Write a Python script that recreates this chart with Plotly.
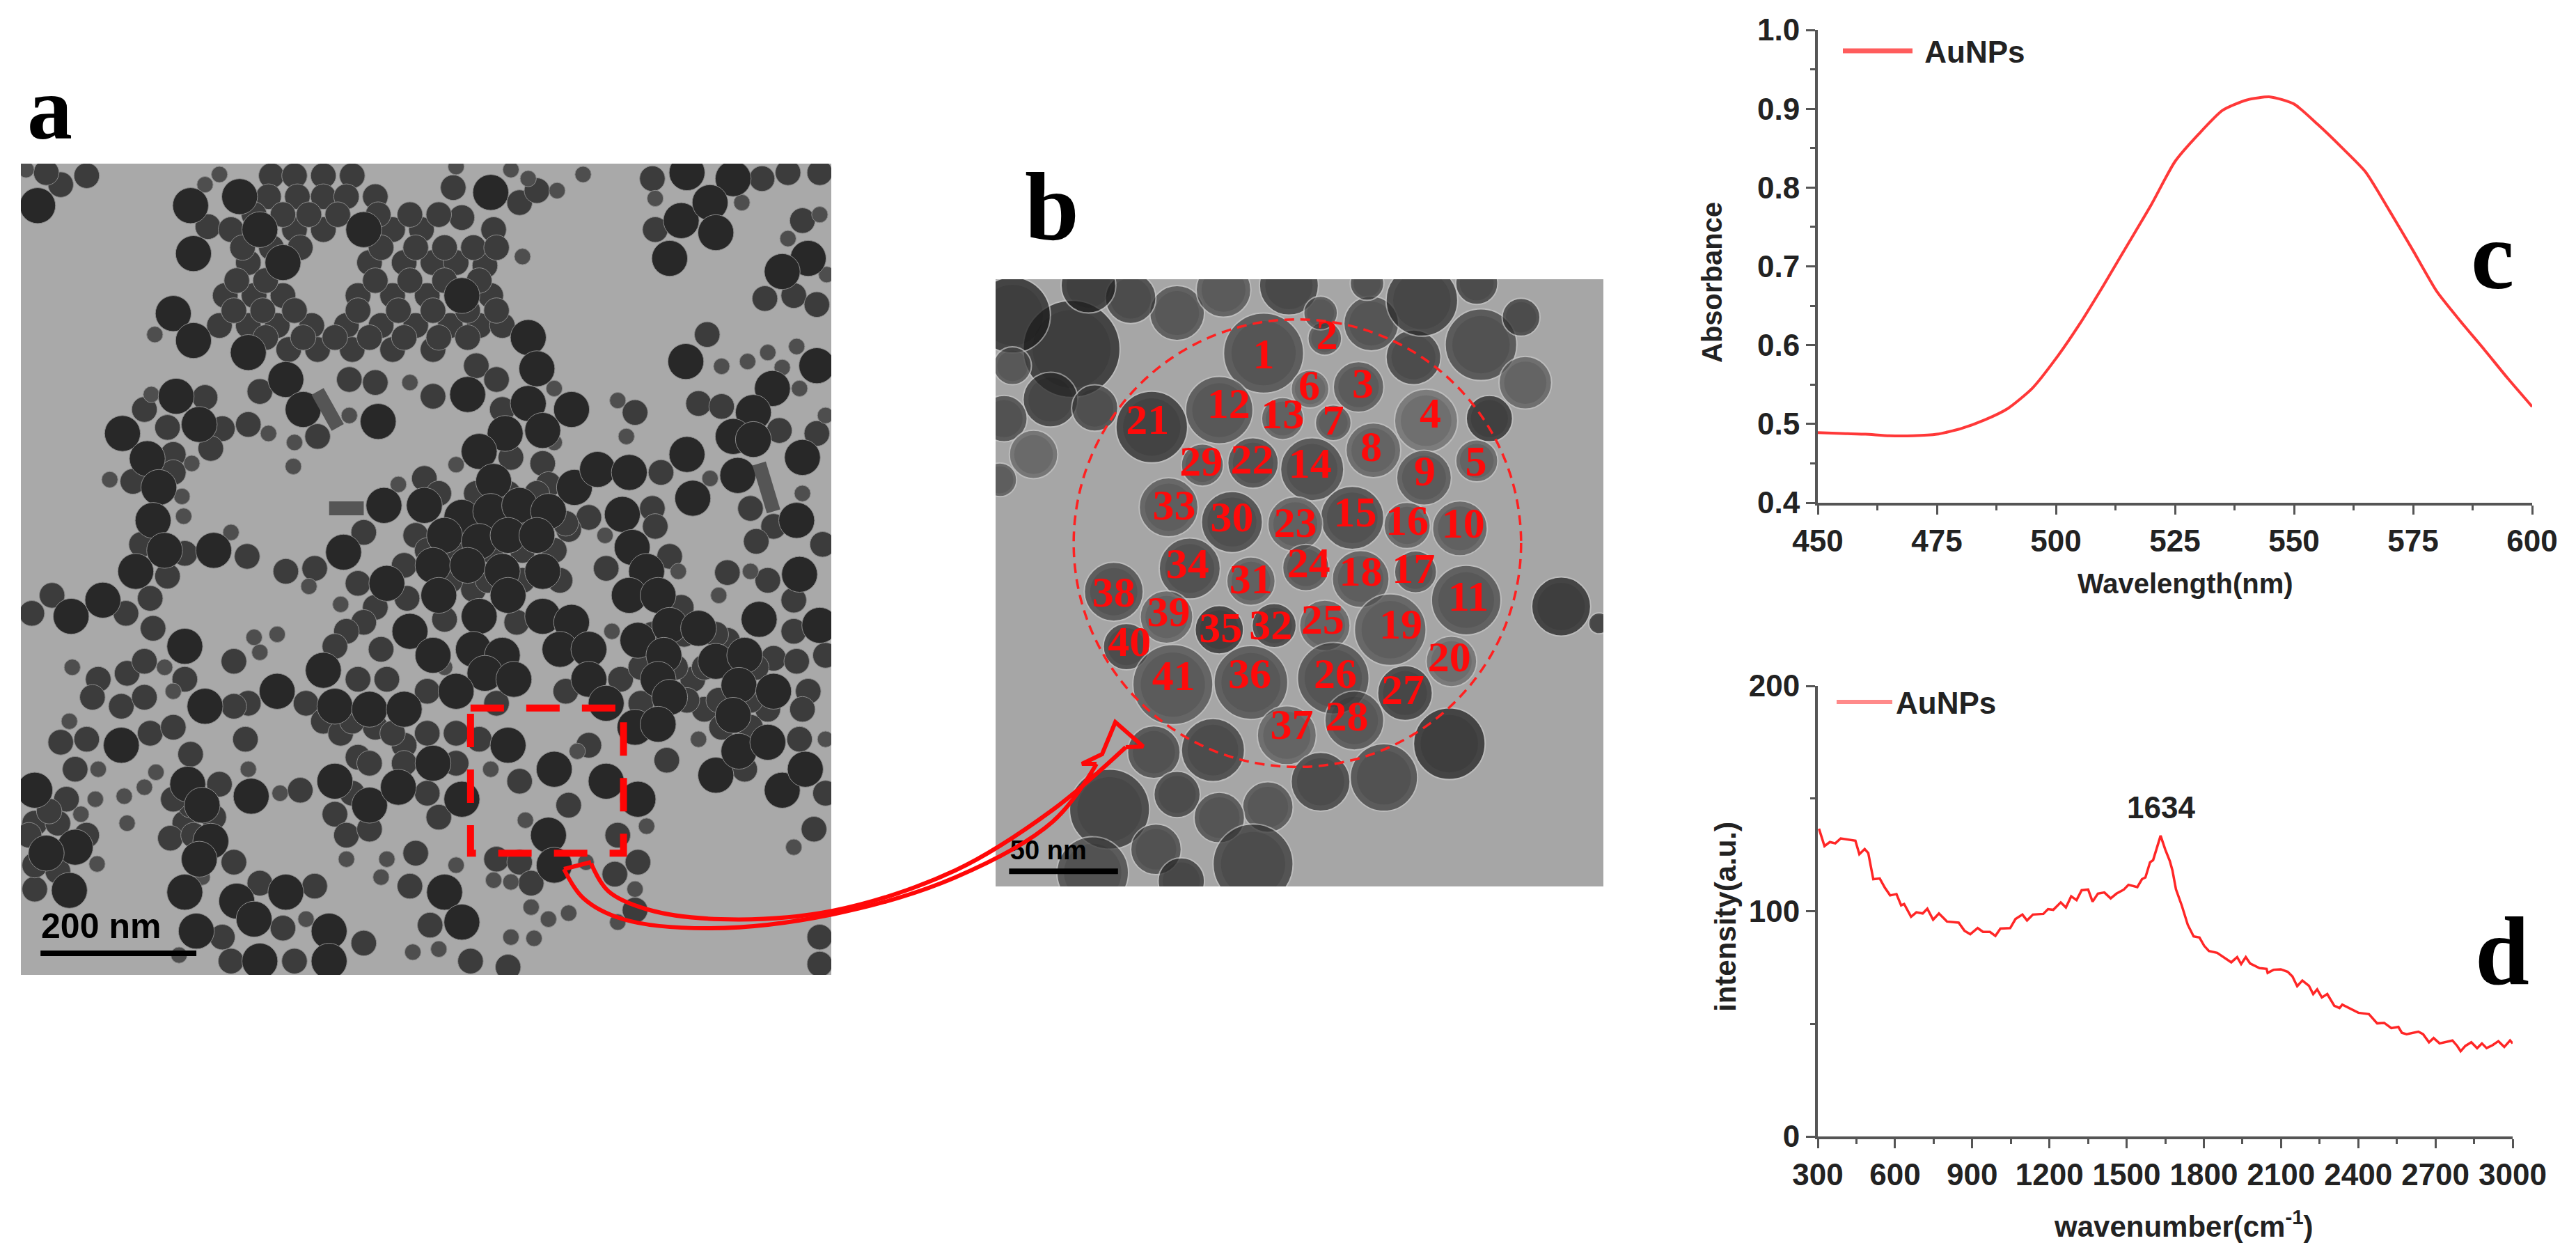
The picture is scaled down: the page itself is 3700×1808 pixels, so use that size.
import plotly.graph_objects as go

W, H = 3700, 1808

## SPECTRA
wavelength = [450, 455, 460, 465, 470, 475, 480, 485, 490, 495, 500, 505, 510, 515, 520, 525,
              530, 535, 540, 545, 550, 555, 560, 565, 570, 575, 580, 585, 590, 595, 600]
absorbance = [.489, .488, .487, .485, .485, .487, .494, .505, .520, .545, .583, .627, .676, .727, .778, .833,
              .868, .898, .911, .915, .906, .880, .851, .820, .771, .720, .668, .630, .594, .557, .522]

wavenumber = [304.5, 326, 347, 368, 389, 423.5, 446, 461.4, 482, 496, 515.5, 540.7, 560.5, 581, 605.6, 623.7, 635.4,
              662.4, 683, 707.5, 725.6, 748, 770.6, 802, 847.3, 870, 892.4, 921.2, 942, 969, 990, 1009.6, 1047.5, 1068,
              1095, 1113, 1136, 1176.4, 1194.5, 1215, 1244, 1264, 1284.6, 1305.4, 1325.2, 1350.4, 1367.6, 1388.3, 1413.5,
              1438, 1460.5, 1489.3, 1507.3, 1541.6, 1559.6, 1573, 1591, 1603, 1632, 1650, 1668, 1678, 1691.7, 1714.6,
              1737.5, 1760.3, 1783, 1801.5, 1819.7, 1851.8, 1879, 1906.6, 1929.5, 1945, 1963, 1979.8, 2016.4, 2043.8, 2048,
              2071, 2098.7, 2126, 2144.4, 2162.7, 2182.8, 2208.4, 2224.9, 2240.4, 2258.7, 2279.7, 2307, 2327.3, 2338, 2373,
              2400.5, 2441.6, 2473.6, 2501, 2528.5, 2556, 2569.7, 2588, 2633.7, 2652, 2675, 2693, 2716, 2766, 2784.5, 2798,
              2816.5, 2839.4, 2862, 2880.6, 2898.8, 2921.7, 2944.6, 2967.5, 2990, 3000]
intensity = [136.6, 128.9, 130.7, 130.1, 132.3, 131.7, 131.3, 125.3, 127.6, 125.8, 114.2, 114.5, 110.4, 107, 107.6, 102.6, 103.2,
             97.5, 99.5, 99, 101.1, 96.2, 99, 95.4, 94.9, 91.3, 89.8, 92.5, 90.8, 90.8, 89, 92.3, 92.5, 96.5,
             98.5, 95.9, 98.5, 98.8, 100.9, 100.6, 103.9, 101.6, 106.6, 104.9, 109.3, 109.6, 104.2, 107.8, 108.3,
             105.7, 107.8, 109.6, 111.7, 110.7, 114.2, 115, 121.7, 122.7, 133.5, 127.4, 122.2, 118.1, 109.7, 102.4,
             94, 88.8, 88.3, 84.6, 82.3, 81.5, 79.4, 77.3, 79.6, 76.5, 79.6, 76.8, 74.7, 74.4, 72.6,
             74, 74.2, 73.1, 71, 66.7, 69.2, 66.9, 63.2, 65.3, 61.7, 63.2, 58, 57, 58.5, 56.4,
             54.9, 54.3, 50.2, 50.4, 48.1, 48.6, 46, 45.4, 46.5, 45.4, 41.8, 43.7, 41.3, 42.6, 40.2, 37.8,
             40.2, 41.8, 39.2, 41.3, 39.2, 40.5, 42.3, 39.7, 42.6, 41.3]

## PANEL A particles (image units)
a_large = [(65, 250), (330, 250), (335, 330), (415, 235), (450, 290), (630, 290), (490, 345), (800, 400), (300, 430),
           (335, 475), (915, 470), (930, 522), (850, 228), (1190, 195), (1270, 205), (1180, 275), (1230, 245),
           (1240, 295), (1160, 338), (1400, 338), (1355, 360), (430, 495), (495, 540), (525, 590), (655, 610),
           (305, 568), (212, 630), (345, 615), (255, 672), (275, 720), (265, 775), (285, 825), (370, 825), (235, 860),
           (595, 828), (665, 750), (123, 935), (178, 908), (810, 565), (915, 580), (990, 590), (940, 625), (875, 630),
           (830, 660), (855, 710), (995, 720), (1035, 690), (1090, 695), (1190, 665), (1278, 700), (1200, 738),
           (735, 750), (800, 770), (850, 760), (900, 750), (950, 760), (1078, 765), (770, 800), (830, 810), (880, 800),
           (930, 800), (1095, 820), (750, 850), (810, 850), (870, 860), (940, 860), (1120, 860), (670, 880), (760, 900),
           (880, 900), (1090, 900), (1140, 900), (710, 960), (830, 935), (940, 935), (990, 945), (1105, 975), (1160, 950),
           (1210, 955), (1315, 940), (1420, 950), (750, 1000), (820, 990), (870, 1000), (970, 990), (1020, 990),
           (1150, 1000), (1240, 1010), (1290, 1000), (560, 1025), (840, 1030), (890, 1040), (1020, 1040), (1140, 1040),
           (1280, 1050), (1340, 1060), (480, 1060), (580, 1085), (640, 1090), (700, 1090), (790, 1060), (1050, 1080),
           (1160, 1070), (1270, 1100), (320, 985), (355, 1085), (210, 1150), (60, 1225), (325, 1215), (435, 1235),
           (350, 1250), (365, 1310), (130, 1320), (80, 1330), (120, 1392), (345, 1340), (580, 1210), (640, 1250),
           (690, 1220), (750, 1180), (800, 1240), (880, 1150), (960, 1190), (1050, 1210), (1100, 1120), (1140, 1115),
           (1105, 1240), (950, 1300), (1240, 1200), (1280, 1160), (1330, 1145), (1355, 1225), (1395, 1190), (960, 1350),
           (770, 1395), (800, 1445), (320, 1395), (410, 1410), (495, 1395), (340, 1460), (440, 1440), (570, 1460),
           (450, 1510), (570, 1510), (1188, 510), (1415, 517), (1338, 555), (1305, 595), (1270, 635), (1305, 640),
           (1390, 670), (1380, 775), (1385, 865)]
a_medium = [(105, 215), (150, 200), (80, 195), (360, 285), (470, 200), (510, 200), (560, 200), (610, 200), (465, 235),
            (515, 235), (560, 235), (600, 235), (650, 235), (400, 290), (510, 290), (560, 290), (680, 290), (730, 290),
            (430, 345), (640, 345), (700, 345), (750, 345), (790, 345), (840, 350), (390, 400), (440, 400), (490, 400),
            (620, 400), (680, 400), (740, 400), (850, 400), (380, 450), (430, 450), (480, 450), (540, 450), (600, 450),
            (660, 450), (720, 450), (780, 450), (830, 450), (870, 450), (500, 490), (550, 490), (610, 490), (680, 490),
            (750, 490), (825, 517), (785, 220), (900, 245), (930, 225), (855, 290), (800, 270), (1130, 205), (1320, 205),
            (1365, 195), (1420, 195), (1135, 290), (1390, 275), (1325, 405), (1375, 400), (1415, 415), (450, 560),
            (550, 635), (605, 540), (650, 545), (355, 570), (250, 590), (290, 620), (385, 622), (430, 615), (365, 655),
            (300, 665), (300, 695), (230, 710), (245, 815), (320, 830), (428, 835), (290, 868), (495, 860), (545, 855),
            (630, 795), (90, 900), (55, 930), (218, 930), (260, 905), (265, 955), (750, 568), (860, 540), (870, 590),
            (885, 670), (940, 680), (950, 715), (1145, 695), (735, 705), (1020, 770), (1130, 755), (720, 800), (985, 790),
            (1135, 785), (1160, 835), (700, 850), (1050, 855), (620, 880), (705, 905), (820, 890), (1180, 920), (650, 920),
            (630, 945), (770, 940), (895, 945), (1260, 975), (1375, 960), (600, 960), (580, 985), (660, 990), (1340, 1005),
            (1380, 1010), (1430, 1000), (405, 1010), (620, 1040), (670, 1040), (1075, 1040), (1200, 1040), (1400, 1060),
            (430, 1080), (530, 1080), (740, 1060), (860, 1080), (980, 1060), (1110, 1080), (1220, 1090), (1330, 1090),
            (1390, 1090), (170, 1040), (220, 1030), (250, 1010), (320, 1040), (160, 1070), (210, 1085), (250, 1070),
            (405, 1085), (105, 1145), (150, 1140), (260, 1130), (300, 1120), (425, 1140), (330, 1165), (130, 1190),
            (115, 1240), (380, 1215), (520, 1225), (60, 1280), (100, 1280), (320, 1280), (295, 1305), (50, 1300), (60, 1390),
            (405, 1345), (620, 1170), (560, 1110), (700, 1150), (650, 1120), (580, 1265), (600, 1300), (640, 1290),
            (720, 1330), (760, 1270), (830, 1140), (900, 1210), (985, 1250), (1020, 1150), (1155, 1175), (1070, 1300),
            (1385, 1140), (1430, 1230), (1290, 1190), (1410, 1290), (860, 1340), (900, 1345), (1065, 1365), (1105, 1345),
            (920, 1380), (1100, 1425), (710, 1385), (745, 1450), (815, 1510), (880, 1520), (450, 1380), (545, 1385),
            (385, 1470), (490, 1455), (630, 1480), (510, 1510), (400, 1510), (1420, 1470), (1420, 1515), (1225, 465),
            (1210, 580), (1250, 585), (1100, 595), (1350, 625), (1415, 630), (1300, 755), (1340, 785), (1425, 815),
            (1310, 810), (1260, 862), (1330, 875), (1375, 908),
            # between the rows of the dense clusters
            (440, 265), (490, 265), (535, 265), (585, 265), (655, 265), (710, 265), (760, 265), (420, 320), (470, 320),
            (520, 320), (660, 320), (720, 320), (770, 320), (820, 320), (860, 320), (410, 375), (460, 375), (650, 375),
            (710, 375), (770, 375), (830, 375), (405, 425), (455, 425), (510, 425), (620, 425), (690, 425), (750, 425),
            (810, 425), (860, 425), (460, 470), (525, 470), (580, 470), (640, 470), (700, 470), (760, 470), (810, 470),
            (740, 825), (790, 825), (850, 825), (905, 825), (960, 825), (825, 780), (875, 780), (925, 780), (980, 780),
            (780, 875), (845, 875), (905, 875), (970, 875), (760, 730), (825, 730), (880, 730), (930, 730),
            (1130, 965), (1185, 965), (1240, 965), (1110, 1020), (1170, 1020), (1220, 1020), (1265, 1020), (1310, 1020),
            (1190, 1075), (1245, 1075), (1300, 1075), (1250, 1120), (1300, 1120), (590, 1130), (680, 1130), (740, 1130),
            (790, 1130), (640, 1180), (700, 1180), (790, 1180), (610, 1230), (740, 1230), (610, 1110),
            (85, 1260), (100, 1360), (60, 1350), (150, 1300), (330, 1250), (300, 1240), (370, 1270), (335, 1300)]
a_small = [(45, 190), (355, 215), (380, 198), (268, 465), (905, 335), (965, 225), (1010, 198), (915, 205), (885, 190),
           (790, 185), (1135, 238), (1285, 245), (1420, 265), (1365, 305), (1432, 365), (262, 565), (605, 600), (465, 630),
           (510, 645), (508, 685), (190, 707), (332, 680), (315, 735), (318, 768), (400, 795), (535, 885), (710, 545),
           (960, 555), (960, 645), (790, 682), (1230, 705), (690, 715), (1048, 800), (1175, 860), (590, 915), (1060, 960),
           (450, 995), (480, 965), (440, 970), (770, 1020), (285, 1020), (125, 1020), (300, 1060), (120, 1110), (170, 1190),
           (165, 1240), (215, 1235), (250, 1220), (270, 1195), (140, 1265), (220, 1280), (430, 1190), (485, 1230),
           (168, 1348), (670, 1340), (600, 1340), (850, 1190), (1120, 1285), (910, 1275), (1000, 1160), (1210, 1140),
           (1375, 1320), (1430, 1140), (1015, 1345), (1100, 1390), (855, 1375), (885, 1378), (920, 1420), (950, 1440),
           (985, 1430), (1070, 1445), (790, 1350), (885, 1470), (925, 1472), (715, 1495), (760, 1490), (660, 1370),
           (350, 1370), (530, 1440), (310, 1500), (1250, 518), (1295, 510), (1330, 495), (1380, 485), (1355, 520),
           (1385, 555), (1070, 575), (1085, 635), (1430, 600), (1390, 730), (1300, 860), (1245, 900)]
a_rods = [[(550, 560), (585, 620)], [(570, 755), (630, 755)], [(1315, 680), (1340, 760)]]

## PANEL B particles: x, y, diameter, grey level
b_x = [685, 830, 910, 1070, 1190, 795, 850, 945, 1065, 1150, 1165, 580, 730, 800, 895, 1025, 1045, 915, 985, 1130, 420,
       660, 760, 785, 830, 850, 1020, 900, 540, 610, 655, 710, 460, 510, 580, 655, 740, 330, 455, 360, 470,
       1040, 940, 1060, 1200, 1295, 1305, 1220, 1390, 1480, 1125, 970, 820, 565, 425, 480, 695, 580, 320, 430, 660, 280,
       490, 230, 90, 180, 285, 70, 140, 60, 480, 590, 745, 820, 370, 270, 90, 930, 1190]
b_y = [260, 225, 340, 420, 515, 345, 425, 490, 555, 675, 845, 395, 415, 535, 650, 668, 778, 795, 915, 990, 435,
       520, 665, 768, 905, 1030, 1065, 1130, 525, 660, 800, 905, 625, 770, 915, 1040, 1165, 825, 885, 955, 1045,
       270, 190, 135, 240, 175, 330, 415, 860, 900, 1185, 1265, 1275, 1200, 1205, 1305, 1335, 1360, 1340, 1435, 1470, 1490,
       1510, 250, 170, 370, 390, 415, 500, 560, 165, 110, 100, 165, 130, 100, 290, 95, 95]
b_d = [190, 80, 120, 150, 100, 90, 85, 130, 130, 130, 165, 160, 100, 150, 150, 110, 100, 135, 170, 120, 170,
       120, 130, 110, 120, 170, 130, 140, 100, 145, 115, 105, 140, 145, 115, 175, 140, 140, 125, 110, 190,
       130, 130, 170, 170, 90, 125, 110, 140, 50, 170, 160, 140, 150, 125, 110, 120, 120, 190, 120, 190, 170,
       110, 230, 180, 130, 110, 110, 115, 80, 130, 130, 140, 80, 120, 130, 90, 80, 100]
b_g = [75, 85, 85, 120, 100, 110, 90, 100, 85, 95, 80, 80, 95, 70, 70, 95, 80, 90, 90, 115, 45,
       70, 95, 85, 100, 75, 50, 80, 85, 65, 95, 55, 90, 70, 40, 80, 100, 75, 100, 60, 85,
       60, 75, 50, 70, 60, 100, 40, 35, 50, 35, 70, 60, 60, 70, 60, 80, 75, 50, 70, 60, 70,
       50, 35, 35, 50, 65, 70, 110, 90, 80, 85, 55, 80, 60, 40, 80, 70, 60]
b_numbers = list(range(1, 42))
b_num_x = [685, 835, 920, 1080, 1188, 793, 850, 940, 1067, 1158, 1170, 602, 730, 795, 902, 1025, 1040, 915, 1010, 1125, 410,
           658, 760, 792, 825, 855, 1015, 882, 537, 610, 655, 702, 473, 505, 583, 652, 752, 330, 460, 367, 472]
b_num_y = [270, 225, 340, 410, 525, 345, 428, 490, 548, 672, 845, 387, 412, 530, 645, 665, 778, 785, 910, 988, 425,
           520, 670, 765, 898, 1028, 1065, 1128, 525, 657, 803, 912, 628, 767, 918, 1028, 1148, 835, 880, 952, 1032]

## zoom arrow between the panels (figure pixels)
arrow_outer_x = [810, 838, 895, 1021, 1196, 1372, 1512, 1575]
arrow_outer_y = [1248, 1290, 1320, 1333, 1313, 1260, 1180, 1097]
arrow_inner_x = [849, 874, 930, 1035, 1196, 1372, 1512, 1617]
arrow_inner_y = [1240, 1280, 1306, 1320, 1308, 1250, 1163, 1073]
tail_x = [810, 849]
tail_y = [1248, 1238]
head_x = [1575, 1554, 1583, 1602, 1642, 1617]
head_y = [1097, 1097, 1083, 1037, 1072, 1073]

a_box = (36, 1440, 180, 1533)
b_box = (50, 1490, 85, 1523)
a_px = (30, 1194, 235, 1400)
b_px = (1430, 2303, 401, 1273)
c_px = (2611, 3637, 43, 722)
d_px = (2611, 3609, 985, 1632)


def dom_x(p):
    return [p[0] / W, p[1] / W]


def dom_y(p):
    return [1 - p[3] / H, 1 - p[2] / H]


def label(text, px, py, size, family='Liberation Sans', angle=0, color='#222222'):
    fig.add_annotation(text=text, x=px / W, y=1 - py / H, xref='paper', yref='paper', showarrow=False,
                       xanchor='center', yanchor='middle', textangle=angle,
                       font=dict(family=family, size=size, color=color, weight='bold'))


fig = go.Figure()

## panel a
a_scale = (a_px[1] - a_px[0]) / (a_box[1] - a_box[0])
for pts, d, grey in [(a_medium, 44, '#3c3c3c'), (a_small, 28, '#4e4e4e'), (a_large, 62, '#282828')]:
    fig.add_trace(go.Scatter(x=[p[0] for p in pts], y=[p[1] for p in pts], mode='markers', showlegend=False,
                             marker=dict(size=d * a_scale, color=grey, line=dict(color='#8c8c8c', width=1)),
                             xaxis='x', yaxis='y', hoverinfo='skip'))
for rod in a_rods:
    fig.add_trace(go.Scatter(x=[p[0] for p in rod], y=[p[1] for p in rod], mode='lines', showlegend=False,
                             line=dict(color='#555555', width=20), xaxis='x', yaxis='y', hoverinfo='skip'))
fig.add_trace(go.Scatter(x=[70, 340], y=[1497, 1497], mode='lines', showlegend=False,
                         line=dict(color='black', width=8), xaxis='x', yaxis='y', hoverinfo='skip'))
fig.add_trace(go.Scatter(x=[175], y=[1457], mode='text', text=['200 nm'], showlegend=False,
                         textfont=dict(family='Liberation Sans', size=50, color='black', weight='bold'),
                         xaxis='x', yaxis='y', hoverinfo='skip'))

## panel b
b_scale = (b_px[1] - b_px[0]) / (b_box[1] - b_box[0])
fig.add_trace(go.Scatter(x=b_x, y=b_y, mode='markers', showlegend=False,
                         marker=dict(size=[d * b_scale for d in b_d], color=b_g,
                                     colorscale=[[0, '#161616'], [1, '#707070']], cmin=30, cmax=125,
                                     line=dict(color='#c6c6c6', width=2)),
                         xaxis='x2', yaxis='y2', hoverinfo='skip'))
# darker core of each particle
fig.add_trace(go.Scatter(x=b_x, y=b_y, mode='markers', showlegend=False,
                         marker=dict(size=[d * b_scale * 0.8 for d in b_d], color='rgba(20,20,20,0.16)', line_width=0),
                         xaxis='x2', yaxis='y2', hoverinfo='skip'))
fig.add_trace(go.Scatter(x=b_num_x, y=b_num_y, mode='text', text=[str(n) for n in b_numbers], showlegend=False,
                         textfont=dict(family='Liberation Serif', size=62, color='#ff0a0a', weight='bold'),
                         xaxis='x2', yaxis='y2', hoverinfo='skip'))
fig.add_trace(go.Scatter(x=[82, 340], y=[1487, 1487], mode='lines', showlegend=False,
                         line=dict(color='black', width=8), xaxis='x2', yaxis='y2', hoverinfo='skip'))
fig.add_trace(go.Scatter(x=[175], y=[1443], mode='text', text=['50 nm'], showlegend=False,
                         textfont=dict(family='Liberation Sans', size=38, color='black', weight='bold'),
                         xaxis='x2', yaxis='y2', hoverinfo='skip'))

## panel c
fig.add_trace(go.Scatter(x=wavelength, y=absorbance, mode='lines', showlegend=False,
                         line=dict(color='#ff3838', width=4, shape='spline', smoothing=0.6), xaxis='x3', yaxis='y3'))
fig.add_trace(go.Scatter(x=[None], y=[None], mode='lines', name='\u00a0AuNPs', legend='legend',
                         line=dict(color='#ff5c5c', width=7), xaxis='x3', yaxis='y3'))
## panel d
fig.add_trace(go.Scatter(x=wavenumber, y=intensity, mode='lines', showlegend=False,
                         line=dict(color='#ff2626', width=3.5), xaxis='x4', yaxis='y4'))
fig.add_trace(go.Scatter(x=[None], y=[None], mode='lines', name='AuNPs', legend='legend2',
                         line=dict(color='#ff8a8a', width=6), xaxis='x4', yaxis='y4'))

## arrow on a figure-wide overlay
for ax, ay in [(arrow_outer_x, arrow_outer_y), (arrow_inner_x, arrow_inner_y)]:
    fig.add_trace(go.Scatter(x=ax, y=ay, mode='lines', showlegend=False,
                             line=dict(color='#ff0808', width=6, shape='spline'),
                             xaxis='x5', yaxis='y5', hoverinfo='skip'))
for ax, ay in [(tail_x, tail_y), (head_x, head_y)]:
    fig.add_trace(go.Scatter(x=ax, y=ay, mode='lines', showlegend=False,
                             line=dict(color='#ff0808', width=6),
                             xaxis='x5', yaxis='y5', hoverinfo='skip'))

hidden = dict(visible=False, showgrid=False, zeroline=False)
axis_style = dict(showline=True, linecolor='#555555', linewidth=4, ticks='outside', ticklen=13, tickwidth=3,
                  tickcolor='#555555', showgrid=False, zeroline=False, automargin=False,
                  tickfont=dict(family='Liberation Sans', size=44, color='#222222', weight='bold'))

fig.update_layout(
    width=W, height=H, margin=dict(l=0, r=0, t=0, b=0), paper_bgcolor='white', plot_bgcolor='rgba(0,0,0,0)',
    xaxis=dict(domain=dom_x(a_px), range=[a_box[0], a_box[1]], anchor='y', **hidden),
    yaxis=dict(domain=dom_y(a_px), range=[a_box[3], a_box[2]], anchor='x', **hidden),
    xaxis2=dict(domain=dom_x(b_px), range=[b_box[0], b_box[1]], anchor='y2', **hidden),
    yaxis2=dict(domain=dom_y(b_px), range=[b_box[3], b_box[2]], anchor='x2', **hidden),
    xaxis3=dict(domain=dom_x(c_px), range=[450, 600], anchor='y3', dtick=25, tick0=450,
                minor=dict(dtick=12.5, tick0=450, ticks='outside', ticklen=7, tickwidth=3, tickcolor='#555555'),
                **axis_style),
    yaxis3=dict(domain=dom_y(c_px), range=[0.4, 1.0], anchor='x3', dtick=0.1, tick0=0.4, tickformat='.1f',
                minor=dict(dtick=0.05, tick0=0.4, ticks='outside', ticklen=7, tickwidth=3, tickcolor='#555555'),
                **axis_style),
    xaxis4=dict(domain=dom_x(d_px), range=[300, 3000], anchor='y4', dtick=300, tick0=300,
                minor=dict(dtick=150, tick0=300, ticks='outside', ticklen=7, tickwidth=3, tickcolor='#555555'),
                **axis_style),
    yaxis4=dict(domain=dom_y(d_px), range=[0, 200], anchor='x4', dtick=100,
                minor=dict(dtick=50, tick0=0, ticks='outside', ticklen=7, tickwidth=3, tickcolor='#555555'),
                **axis_style),
    xaxis5=dict(domain=[0, 1], range=[0, W], anchor='y5', **hidden),
    yaxis5=dict(domain=[0, 1], range=[H, 0], anchor='x5', **hidden),
    legend=dict(x=2642 / W, y=1 - 38 / H, xanchor='left', yanchor='top', bgcolor='rgba(0,0,0,0)', itemwidth=100,
                font=dict(family='Liberation Sans', size=44, color='#222222', weight='bold')),
    legend2=dict(x=2633 / W, y=1 - 973 / H, xanchor='left', yanchor='top', bgcolor='rgba(0,0,0,0)', itemwidth=80,
                 font=dict(family='Liberation Sans', size=44, color='#222222', weight='bold')),
    hovermode=False,
)

# micrograph backgrounds and the dashed selections
fig.add_shape(type='rect', xref='x', yref='y', x0=a_box[0], x1=a_box[1], y0=a_box[2], y1=a_box[3], layer='below',
              fillcolor='#a9a9a9', line_width=0)
fig.add_shape(type='rect', xref='x2', yref='y2', x0=b_box[0], x1=b_box[1], y0=b_box[2], y1=b_box[3], layer='below',
              fillcolor='#a6a6a6', line_width=0)
fig.add_shape(type='rect', xref='x', yref='y', x0=815, x1=1080, y0=1088, y1=1330, layer='above',
              line=dict(color='#ff0505', width=10, dash='48px,32px'))
fig.add_shape(type='circle', xref='x2', yref='y2', x0=235, x1=1295, y0=180, y1=1240, layer='above',
              line=dict(color='#ff2020', width=3.5, dash='14px,9px'))

# panel letters
label('a', 71, 155, 130, family='Liberation Serif', color='black')
label('b', 1511, 296, 140, family='Liberation Serif', color='black')
label('c', 3580, 367, 140, family='Liberation Serif', color='black')
label('d', 3594, 1365, 140, family='Liberation Serif', color='black')

# axis titles, placed where the reference has them
label('Wavelength(nm)', 3139, 838, 40)
label('Absorbance', 2459, 406, 40, angle=-90)
label('wavenumber(cm<sup>-1</sup>)', 3136, 1758, 42)
label('intensity(a.u.)', 2478, 1317, 42, angle=-90)

fig.add_annotation(text='1634', x=1634, y=146, xref='x4', yref='y4', showarrow=False,
                   xanchor='center', yanchor='middle',
                   font=dict(family='Liberation Sans', size=44, color='#222222', weight='bold'))

fig.write_html('out.html', post_script="document.body.style.margin='0';", config={'displayModeBar': False})
